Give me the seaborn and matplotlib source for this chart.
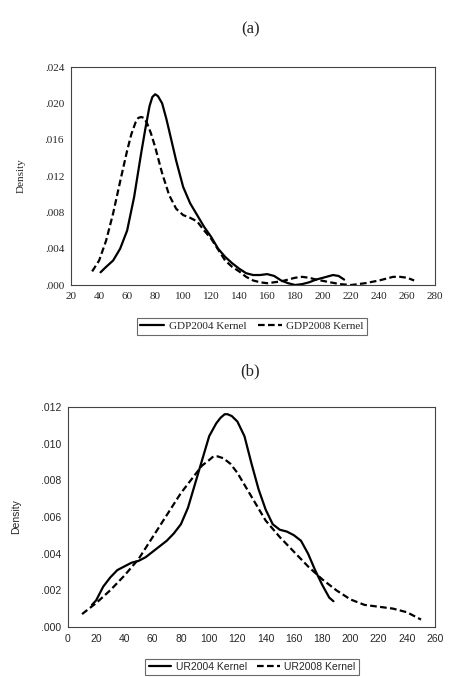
import matplotlib
matplotlib.use('Agg')
import matplotlib.pyplot as plt
import seaborn as sns

# panel (a): GDP kernel densities
gdp04_x = [41, 45, 50, 55, 60, 65, 70, 73, 76, 78, 80, 82, 85, 88, 90, 95, 100, 105, 110, 115,
           120, 125, 130, 135, 140, 145, 150, 155, 160, 165, 170, 175, 180, 185, 190, 195, 200,
           207, 211, 215]
gdp04_y = [.0014, .0020, .0027, .0040, .0060, .0097, .0145, .0172, .0197, .0207, .0210, .0208,
           .0200, .0183, .0170, .0137, .0108, .0090, .0077, .0064, .0053, .0040, .0031, .0024,
           .0018, .0013, .0011, .0011, .0012, .0010, .0005, .0002, .0000, .0001, .0003, .0006,
           .0008, .0011, .0010, .0006]
gdp08_x = [35, 40, 45, 50, 55, 60, 63, 66, 68, 70, 72, 74, 77, 80, 85, 90, 95, 100, 105, 110,
           115, 120, 125, 130, 135, 140, 145, 150, 155, 160, 165, 170, 175, 180, 185, 190, 195,
           205, 212, 220, 230, 240, 245, 250, 255, 260, 265]
gdp08_y = [.0015, .0027, .0049, .0079, .0114, .0148, .0166, .0179, .0184, .0185, .0184, .0179,
           .0167, .0152, .0123, .0099, .0084, .0077, .0074, .0070, .0060, .0051, .0039, .0027,
           .0020, .0015, .0009, .0005, .0003, .0002, .0003, .0004, .0006, .0008, .0009, .0008,
           .0006, .0003, .0001, .0000, .0002, .0005, .0007, .0009, .0009, .0008, .0005]

# panel (b): UR kernel densities
ur04_x = [17, 20, 25, 30, 35, 40, 45, 50, 55, 60, 65, 70, 75, 80, 85, 90, 95, 100, 105, 108,
          111, 113, 116, 120, 125, 130, 135, 140, 145, 150, 155, 160, 165, 170, 175, 180, 185, 188]
ur04_y = [.0012, .00145, .0022, .0027, .0031, .0033, .0035, .0036, .0038, .0041, .0044, .0047,
          .0051, .0056, .0065, .0078, .0091, .0104, .0111, .0114, .0116, .0116, .0115, .0112,
          .0104, .0089, .0075, .0064, .0056, .0053, .0052, .0050, .0047, .0040, .0031, .0023,
          .0016, .0014]
ur08_x = [10, 20, 30, 40, 50, 60, 70, 80, 90, 95, 100, 103, 106, 110, 115, 120, 130, 140, 150,
          160, 170, 180, 190, 200, 210, 220, 230, 240, 250]
ur08_y = [.0007, .0013, .0020, .0028, .0037, .0049, .0061, .0073, .0083, .0088, .0091, .0093,
          .0093, .0092, .0089, .0084, .0071, .0058, .0049, .0041, .0033, .0026, .0020, .0015,
          .0012, .0011, .0010, .0008, .0004]

ticks_a_x = list(range(20, 281, 20))
ticks_a_y = [0, .004, .008, .012, .016, .020, .024]
ticks_b_x = list(range(0, 261, 20))
ticks_b_y = [0, .002, .004, .006, .008, .010, .012]

sns.set_style('white')

fig = plt.figure(figsize=(4.59, 6.77), dpi=100)
ax1 = fig.add_axes([0.155, 0.579, 0.793, 0.322])
ax2 = fig.add_axes([0.148, 0.074, 0.800, 0.325])


def draw(ax, x1, y1, x2, y2, lab1, lab2, xt, yt, fam, fs, legy, title, titley):
    sns.lineplot(x=x1, y=y1, ax=ax, color='black', lw=1.6, label=lab1)
    sns.lineplot(x=x2, y=y2, ax=ax, color='black', lw=1.6, linestyle=(0, (3, 1.5)), label=lab2)
    ax.set_xlim(xt[0], xt[-1])
    ax.set_ylim(yt[0], yt[-1])
    ax.set_xticks(xt)
    ax.set_yticks(yt)
    ax.set_xticklabels([str(v) for v in xt], family=fam, fontsize=fs)
    ax.set_yticklabels([('%.3f' % v)[1:] for v in yt], family=fam, fontsize=fs)
    ax.tick_params(direction='out', length=3, width=0.6, color='#444444', pad=2)
    for s in ax.spines.values():
        s.set_color('#444444')
        s.set_linewidth(0.8)
    ax.set_xlabel('')
    ax.set_ylabel('Density', family=fam, fontsize=fs, labelpad=14)
    ax.legend(loc='center', bbox_to_anchor=(0.549, legy), bbox_transform=fig.transFigure,
              ncol=2, frameon=True, fancybox=False, edgecolor='#444444',
              prop={'family': fam, 'size': fs}, handlelength=2.2, columnspacing=1.0,
              borderpad=0.3, handletextpad=0.4)
    ax.get_legend().get_frame().set_linewidth(0.8)
    fig.text(0.545, titley, title, family='Liberation Serif', fontsize=12, ha='center', va='center')


draw(ax1, gdp04_x, gdp04_y, gdp08_x, gdp08_y, 'GDP2004 Kernel', 'GDP2008 Kernel',
     ticks_a_x, ticks_a_y, 'Liberation Serif', 8, 0.518, '(a)', 0.957)
draw(ax2, ur04_x, ur04_y, ur08_x, ur08_y, 'UR2004 Kernel', 'UR2008 Kernel',
     ticks_b_x, ticks_b_y, 'Liberation Sans', 7.5, 0.015, '(b)', 0.452)

fig.savefig('out.png', dpi=100)
